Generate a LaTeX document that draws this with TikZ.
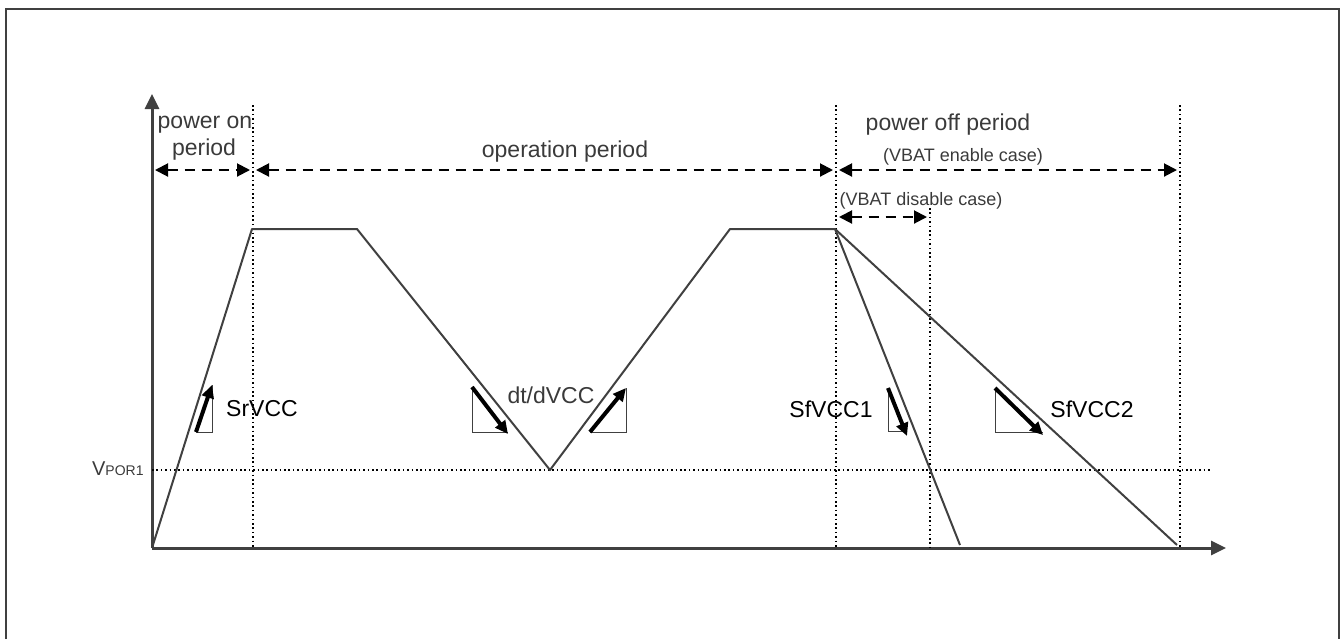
\documentclass[tikz,border=0pt]{standalone}
\usepackage{fontspec}
\setmainfont{Liberation Sans}
\usetikzlibrary{arrows.meta}
\definecolor{wavegray}{HTML}{404040}
\definecolor{textgray}{HTML}{3A3A3A}

\begin{document}
\begin{tikzpicture}[x=0.5pt,y=-0.5pt,
  lbl/.style={text=textgray,font=\fontsize{11.5}{14}\selectfont,anchor=base,inner sep=0pt},
  sublbl/.style={text=textgray,font=\fontsize{9}{11}\selectfont,anchor=base,inner sep=0pt},
  axisline/.style={wavegray,line width=1.5pt,-{Triangle[length=7.5pt,width=7pt]}},
  waveline/.style={wavegray,line width=1pt},
  guide/.style={line width=1pt,dash pattern=on 0.8pt off 1.4pt},
  span/.style={line width=1pt,dash pattern=on 5pt off 3.5pt,{Triangle[length=6.5pt,width=6.5pt]}-{Triangle[length=6.5pt,width=6.5pt]}},
  slopetri/.style={wavegray,line width=0.5pt},
  slopearrow/.style={line width=2pt,-{Triangle[length=6.5pt,width=6pt]}}]
\useasboundingbox (0,0) rectangle (1341,639);
% frame
\draw[wavegray,line width=1pt] (6,639) -- (6,9) -- (1339,9) -- (1339,639);
% axes
\coordinate (origin) at (152,548);
\coordinate (ytop) at (152,94);
\coordinate (xend) at (1226,548);
\draw[axisline] (origin) -- (ytop);
\draw[axisline] (origin) -- (xend);
% guides
\coordinate (g1t) at (253,105);  \coordinate (g1b) at (253,548);
\coordinate (g2t) at (836,105);  \coordinate (g2b) at (836,548);
\coordinate (g3t) at (930,208);  \coordinate (g3b) at (930,548);
\coordinate (g4t) at (1180,105); \coordinate (g4b) at (1180,548);
\coordinate (porl) at (152,470); \coordinate (porr) at (1210,470);
\foreach \g in {1,2,3,4}{
\draw[guide] (g\g t) -- (g\g b);
}
\draw[guide] (porl) -- (porr);
% waveform
\coordinate (rise) at (252,229);
\coordinate (top1) at (357,229);
\coordinate (dip) at (550,470);
\coordinate (top2) at (730,229);
\coordinate (fall) at (835,229);
\coordinate (end1) at (960,545);
\coordinate (end2) at (1177,545);
\draw[waveline,line join=round] (origin) -- (rise) -- (top1) -- (dip) -- (top2) -- (fall) -- (end1);
\draw[waveline] (fall) -- (end2);
% periods
\coordinate (p0) at (155,170);  \coordinate (p1) at (250,170);
\coordinate (p2) at (256,170);  \coordinate (p3) at (833,170);
\coordinate (p4) at (839,170);  \coordinate (p5) at (1177,170);
\coordinate (q0) at (839,217);  \coordinate (q1) at (927,217);
\draw[span] (p0) -- (p1);
\draw[span] (p2) -- (p3);
\draw[span] (p4) -- (p5);
\draw[span] (q0) -- (q1);
\node[lbl] (poweron) at (205,128) {power on};
\node[lbl] (poweronb) at (204,155) {period};
\node[lbl] (operation) at (565,157) {operation period};
\node[lbl] (poweroff) at (948,130) {power off period};
\node[sublbl] (enable) at (963,161) {(VBAT enable case)};
\node[sublbl] (disable) at (921,205) {(VBAT disable case)};
\node[text=textgray,font=\fontsize{10}{12}\selectfont,anchor=base east,inner sep=0pt] (vpor) at (144,475) {V{\fontsize{7}{8}\selectfont POR1}};
% slopes
\draw[slopetri] (196,432) -- (212,432) -- (212,385);
\draw[slopearrow] (196,432) -- (212,385);
\draw[slopetri] (472,387) -- (472,432) -- (508,432);
\draw[slopearrow] (472,387) -- (508,434);
\draw[slopetri] (590,432) -- (626,432) -- (626,388);
\draw[slopearrow] (590,432) -- (626,388);
\draw[slopetri] (888,388) -- (888,431) -- (907,431);
\draw[slopearrow] (888,388) -- (907,436);
\draw[slopetri] (995,388) -- (995,432) -- (1043,432);
\draw[slopearrow] (995,388) -- (1043,435);
\node[lbl,text=black] (srvcc) at (262,416) {SrVCC};
\node[lbl] (dtdvcc) at (551,403) {dt/dVCC};
\node[lbl,text=black] (sfvcca) at (831,417) {SfVCC1};
\node[lbl,text=black] (sfvccb) at (1092,417) {SfVCC2};
\end{tikzpicture}
\end{document}
